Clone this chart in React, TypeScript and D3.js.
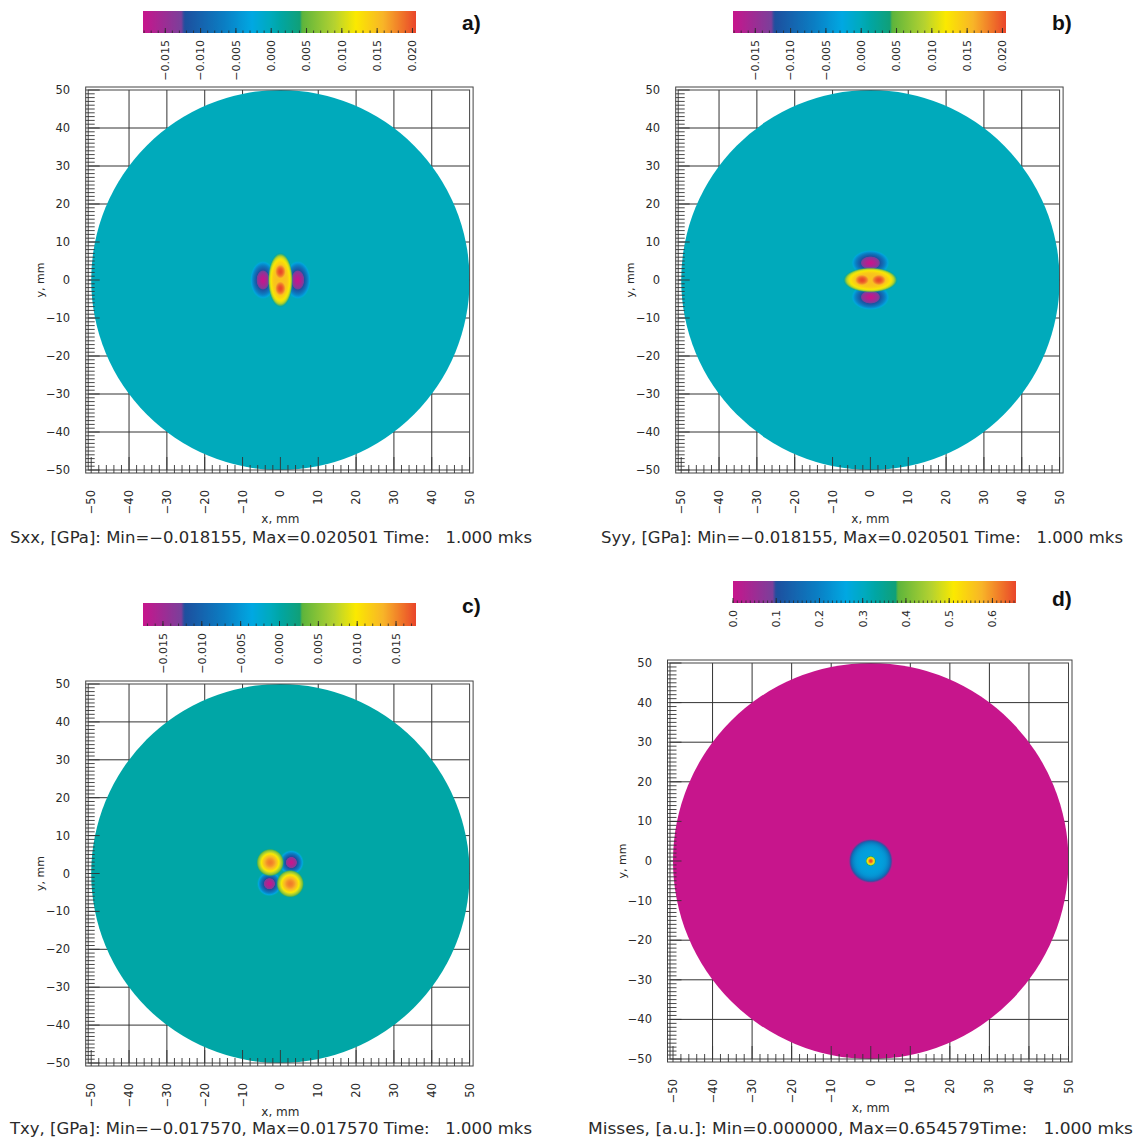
import React from "react";
import * as d3 from "d3";

// colour table of the plot program (position along bar -> colour)
const cmapStops = [0, 0.14, 0.152, 0.3, 0.4, 0.47, 0.5, 0.575, 0.582, 0.7, 0.78, 0.88, 1];
const cmapColors = ["#c7158c", "#7b3f9a", "#1d4f9e", "#0a7fc4", "#00a8e2", "#00aabb", "#00a6a6", "#10a078", "#5cb43c", "#b4d230", "#fbe900", "#f8b428", "#e9452a"];

const axisTicks = [-50, -40, -30, -20, -10, 0, 10, 20, 30, 40, 50];
const gridLines = [-40, -30, -20, -10, 0, 10, 20, 30, 40];

const stressRange = [-0.018155, 0.020501];
const shearRange = [-0.01757, 0.01757];
const misesRange = [0, 0.654579];

const stressTicks = [-0.015, -0.01, -0.005, 0, 0.005, 0.01, 0.015, 0.02];
const shearTicks = [-0.015, -0.01, -0.005, 0, 0.005, 0.01, 0.015];
const misesTicks = [0, 0.1, 0.2, 0.3, 0.4, 0.5, 0.6];

// field blobs: centre (mm), half sizes (mm), peak value, value it sits on, sharpness
const sxxLobes = [
  { x: -4.6, y: 0, rx: 3.5, ry: 5.2, peak: -0.0182, base: 0, p: 1.5 },
  { x: 4.6, y: 0, rx: 3.5, ry: 5.2, peak: -0.0182, base: 0, p: 1.5 },
  { x: 0, y: 0, rx: 3.4, ry: 7.4, peak: 0.015, base: 0, p: 5 },
  { x: 0, y: 2.2, rx: 1.5, ry: 2.0, peak: 0.0205, base: 0.014, p: 2 },
  { x: 0, y: -2.2, rx: 1.5, ry: 2.0, peak: 0.0205, base: 0.014, p: 2 },
];
const syyLobes = [
  { x: 0, y: 4.5, rx: 5.2, ry: 3.5, peak: -0.0182, base: 0, p: 1.5 },
  { x: 0, y: -4.5, rx: 5.2, ry: 3.5, peak: -0.0182, base: 0, p: 1.5 },
  { x: 0, y: 0, rx: 7.4, ry: 3.4, peak: 0.015, base: 0, p: 5 },
  { x: 2.2, y: 0, rx: 2.0, ry: 1.5, peak: 0.0205, base: 0.014, p: 2 },
  { x: -2.2, y: 0, rx: 2.0, ry: 1.5, peak: 0.0205, base: 0.014, p: 2 },
];
const txyLobes = [
  { x: 2.9, y: 2.9, rx: 3.4, ry: 3.4, peak: -0.0175, base: 0, p: 1.5 },
  { x: -2.9, y: -2.7, rx: 3.4, ry: 3.4, peak: -0.0175, base: 0, p: 1.5 },
  { x: -2.7, y: 2.9, rx: 3.8, ry: 3.8, peak: 0.0155, base: 0, p: 2 },
  { x: 2.6, y: -2.7, rx: 3.8, ry: 3.8, peak: 0.0155, base: 0, p: 2 },
];
const misesLobes = [
  { x: 0, y: 0, rx: 5.8, ry: 5.8, peak: 0.25, base: 0, p: 6 },
  { x: 0, y: 0, rx: 1.4, ry: 1.4, peak: 0.654, base: 0.25, p: 2 },
];

const panels = [
  {
    id: "a", label: "a)", xr: [91.2, 469.6], yr: [90, 470], cb: [143, 416, 11, 33],
    domain: stressRange, ticks: stressTicks, fmt: ".3f", minor: 0.001, lobes: sxxLobes,
    caption: "Sxx, [GPa]: Min=−0.018155, Max=0.020501 Time:   1.000 mks", cap: [10, 532, 543], lab: [462, 30],
  },
  {
    id: "b", label: "b)", xr: [681.2, 1059.6], yr: [90, 470], cb: [733, 1006, 11, 33],
    domain: stressRange, ticks: stressTicks, fmt: ".3f", minor: 0.001, lobes: syyLobes,
    caption: "Syy, [GPa]: Min=−0.018155, Max=0.020501 Time:   1.000 mks", cap: [601, 1123, 543], lab: [1052, 30],
  },
  {
    id: "c", label: "c)", xr: [91.2, 469.6], yr: [684, 1063], cb: [143, 416, 603, 626],
    domain: shearRange, ticks: shearTicks, fmt: ".3f", minor: 0.001, lobes: txyLobes,
    caption: "Txy, [GPa]: Min=−0.017570, Max=0.017570 Time:   1.000 mks", cap: [10, 532, 1134], lab: [462, 613],
  },
  {
    id: "d", label: "d)", xr: [673, 1068.5], yr: [663, 1059], cb: [733, 1016, 581, 603],
    domain: misesRange, ticks: misesTicks, fmt: ".1f", minor: 0.01, lobes: misesLobes,
    caption: "Misses, [a.u.]: Min=0.000000, Max=0.654579Time:   1.000 mks", cap: [588, 1133, 1134], lab: [1052, 606],
  },
];

const cmap = d3.scaleLinear<string>().domain(cmapStops).range(cmapColors).interpolate(d3.interpolateRgb).clamp(true);
const font = "'DejaVu Sans', sans-serif";
const ink = "#2a2a2a";

function Panel({ cfg }: any) {
  const x = d3.scaleLinear().domain([-50, 50]).range(cfg.xr);
  const y = d3.scaleLinear().domain([50, -50]).range(cfg.yr);
  const norm = d3.scaleLinear().domain(cfg.domain).range([0, 1]);
  const [cx0, cx1, cy0, cy1] = cfg.cb;
  const cb = d3.scaleLinear().domain(cfg.domain).range([cx0, cx1]);
  const fmt = d3.format(cfg.fmt);
  const x0 = cfg.xr[0], x1 = cfg.xr[1], y0 = cfg.yr[0], y1 = cfg.yr[1];
  const barStops = d3.range(0, 1.0001, 0.005);
  const minorTicks = d3.range(Math.ceil(cfg.domain[0] / cfg.minor) * cfg.minor, cfg.domain[1], cfg.minor);
  const leftTicks = d3.range(-50, 51, 1);
  const bottomTicks = d3.range(-50, 51, 2);
  const steps = d3.range(0, 1.0001, 0.05);

  return (
    <g>
      <defs>
        <linearGradient id={`bar-${cfg.id}`} x1="0" x2="1" y1="0" y2="0">
          {barStops.map((t) => (
            <stop key={t} offset={t} stopColor={cmap(t)} />
          ))}
        </linearGradient>
        {cfg.lobes.map((l: any, i: number) => (
          <radialGradient key={i} id={`lobe-${cfg.id}-${i}`}>
            {steps.map((t) => {
              const v = l.base + (l.peak - l.base) * (1 - Math.pow(t, l.p));
              return (
                <stop key={t} offset={t} stopColor={cmap(norm(v))}
                  stopOpacity={t > 0.85 ? Math.max(0, (1 - t) / 0.15) : 1} />
              );
            })}
          </radialGradient>
        ))}
      </defs>

      {/* colour bar */}
      <rect x={cx0} y={cy0} width={cx1 - cx0} height={cy1 - cy0} fill={`url(#bar-${cfg.id})`} />
      {minorTicks.map((v, i) => (
        <line key={i} x1={cb(v)} x2={cb(v)} y1={cy1} y2={cy1 - 2.5} stroke={ink} strokeWidth={0.8} />
      ))}
      {cfg.ticks.map((v: number) => (
        <g key={v}>
          <line x1={cb(v)} x2={cb(v)} y1={cy1} y2={cy1 - 5} stroke={ink} strokeWidth={0.9} />
          <text transform={`translate(${cb(v)},${cy1 + 7}) rotate(-90)`} textAnchor="end" dy="0.35em"
            fontFamily={font} fontSize={11} fill={ink}>{fmt(v)}</text>
        </g>
      ))}
      <text x={cfg.lab[0]} y={cfg.lab[1]} fontFamily="'Liberation Sans', Arial, sans-serif" fontWeight="bold"
        fontSize={21} fill="#111">{cfg.label}</text>

      {/* grid under the disk */}
      {gridLines.map((g) => (
        <g key={g}>
          <line x1={x(g)} x2={x(g)} y1={y0} y2={y1} stroke="#333" strokeWidth={1} />
          <line x1={x0 - 3} x2={x1} y1={y(g)} y2={y(g)} stroke="#333" strokeWidth={1} />
        </g>
      ))}

      {/* sample disk and field */}
      <ellipse cx={x(0)} cy={y(0)} rx={x(50) - x(0)} ry={y(-50) - y(0)} fill={cmap(norm(0))} />
      {cfg.lobes.map((l: any, i: number) => (
        <ellipse key={i} cx={x(l.x)} cy={y(l.y)} rx={x(l.rx) - x(0)} ry={y(-l.ry) - y(0)}
          fill={`url(#lobe-${cfg.id}-${i})`} />
      ))}

      {/* frame */}
      <rect x={x0 - 3} y={y0} width={x1 - x0 + 3} height={y1 - y0} fill="none" stroke="#444" strokeWidth={1} />
      <rect x={x0 - 5.5} y={y0 - 3} width={x1 - x0 + 9} height={y1 - y0 + 6} fill="none" stroke="#444" strokeWidth={1} />
      {leftTicks.map((v) => (
        <line key={v} x1={x0 - 5.5} x2={x0 - 5.5 + (v % 10 === 0 ? 14 : 9)} y1={y(v)} y2={y(v)} stroke="#333" strokeWidth={0.9} />
      ))}
      {bottomTicks.map((v) => (
        <line key={v} x1={x(v)} x2={x(v)} y1={y1 + 3} y2={y1 + 3 - (v % 10 === 0 ? 16 : 8)} stroke="#333" strokeWidth={0.9} />
      ))}

      {/* axis labels */}
      {axisTicks.map((v) => (
        <text key={`y${v}`} x={x0 - 21} y={y(v)} dy="0.35em" textAnchor="end" fontFamily={font} fontSize={11.5} fill={ink}>
          {d3.format("d")(v)}
        </text>
      ))}
      {axisTicks.map((v) => (
        <text key={`x${v}`} transform={`translate(${x(v)},${y1 + 20}) rotate(-90)`} textAnchor="end" dy="0.35em"
          fontFamily={font} fontSize={11.5} fill={ink}>{d3.format("d")(v)}</text>
      ))}
      <text transform={`translate(${x0 - 51},${y(0)}) rotate(-90)`} textAnchor="middle" dy="0.35em"
        fontFamily={font} fontSize={11} fill={ink}>y, mm</text>
      <text x={x(0)} y={y1 + 53} textAnchor="middle" fontFamily={font} fontSize={12} fill={ink}>x, mm</text>
      <text x={cfg.cap[0]} y={cfg.cap[2]} textLength={cfg.cap[1] - cfg.cap[0]} lengthAdjust="spacingAndGlyphs"
        fontFamily={font} fontSize={15} fill={ink} style={{ whiteSpace: "pre" }}>{cfg.caption}</text>
    </g>
  );
}

export default function App() {
  return (
    <svg width={1135} height={1139} style={{ display: "block", position: "absolute", left: 0, top: 0, background: "#fff" }}>
      <rect width={1135} height={1139} fill="#fff" />
      {panels.map((p) => (
        <Panel key={p.id} cfg={p} />
      ))}
    </svg>
  );
}
